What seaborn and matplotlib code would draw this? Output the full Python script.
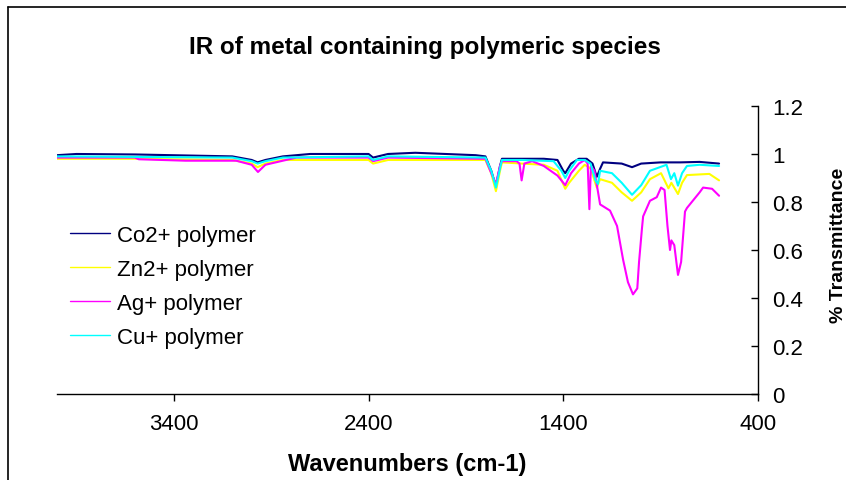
import numpy as np
import pandas as pd
import matplotlib.pyplot as plt
import seaborn as sns
from matplotlib.lines import Line2D

# series (wavenumber, transmittance)
co_wn = [4000, 3900, 3600, 3100, 3000, 2970, 2930, 2840, 2700, 2400, 2377, 2300, 2160,
         1850, 1800, 1770, 1746, 1725, 1715, 1612, 1500, 1430, 1400, 1390, 1360, 1320,
         1280, 1250, 1228, 1210, 1196, 1100, 1047, 1000, 900, 860, 800, 700, 600]
co_t = [0.995, 1.0, 0.998, 0.99, 0.975, 0.965, 0.975, 0.99, 1.0, 1.0, 0.985, 1.0, 1.005,
        0.995, 0.99, 0.93, 0.865, 0.95, 0.98, 0.98, 0.98, 0.975, 0.93, 0.92, 0.96, 0.98,
        0.98, 0.96, 0.905, 0.94, 0.965, 0.96, 0.945, 0.96, 0.965, 0.965, 0.965, 0.967, 0.96]

zn_wn = [4000, 3600, 3100, 3000, 2970, 2930, 2840, 2400, 2377, 2300, 1800, 1770, 1746,
         1725, 1715, 1612, 1500, 1430, 1390, 1370, 1320, 1290, 1260, 1228, 1211, 1150,
         1100, 1047, 1000, 955, 898, 860, 845, 811, 790, 765, 650, 600]
zn_t = [0.98, 0.98, 0.975, 0.96, 0.945, 0.96, 0.975, 0.975, 0.96, 0.975, 0.975, 0.92, 0.845,
        0.93, 0.965, 0.96, 0.955, 0.93, 0.855, 0.88, 0.93, 0.955, 0.94, 0.86, 0.895, 0.88,
        0.84, 0.805, 0.84, 0.895, 0.92, 0.857, 0.88, 0.833, 0.88, 0.912, 0.917, 0.89]

ag_wn = [4000, 3600, 3580, 3340, 3080, 3000, 2968, 2930, 2840, 2770, 2400, 2377, 2300,
         1800, 1770, 1746, 1725, 1715, 1640, 1625, 1614, 1600, 1560, 1500, 1430, 1400,
         1390, 1360, 1320, 1290, 1275, 1266, 1258, 1240, 1211, 1160, 1124, 1093, 1068,
         1042, 1020, 1011, 996, 990, 955, 920, 898, 880, 865, 852, 845, 830, 811, 795,
         775, 765, 700, 682, 636, 600]
ag_t = [0.985, 0.985, 0.978, 0.972, 0.972, 0.955, 0.925, 0.955, 0.972, 0.985, 0.985, 0.97, 0.985,
        0.98, 0.92, 0.875, 0.95, 0.97, 0.97, 0.96, 0.89, 0.96, 0.97, 0.95, 0.91, 0.88,
        0.87, 0.92, 0.96, 0.975, 0.96, 0.77, 0.95, 0.93, 0.79, 0.764, 0.70, 0.56, 0.466,
        0.415, 0.44, 0.55, 0.69, 0.74, 0.805, 0.82, 0.86, 0.85, 0.70, 0.60, 0.64, 0.62, 0.496, 0.55,
        0.76, 0.775, 0.84, 0.86, 0.855, 0.826]

cu_wn = [4000, 3100, 3000, 2970, 2930, 2840, 2400, 2377, 2300, 1800, 1770, 1746, 1725,
         1715, 1612, 1450, 1410, 1390, 1370, 1330, 1290, 1260, 1235, 1222, 1211, 1150,
         1100, 1047, 1000, 955, 870, 847, 830, 811, 790, 765, 700, 600]
cu_t = [0.99, 0.985, 0.97, 0.96, 0.97, 0.985, 0.99, 0.975, 0.99, 0.985, 0.93, 0.86, 0.94,
        0.975, 0.975, 0.97, 0.93, 0.90, 0.93, 0.975, 0.975, 0.96, 0.89, 0.875, 0.93, 0.92,
        0.88, 0.83, 0.87, 0.93, 0.955, 0.895, 0.92, 0.868, 0.92, 0.95, 0.955, 0.95]

series_names = ["Co2+ polymer", "Zn2+ polymer", "Ag+ polymer", "Cu+ polymer"]
colors = ["#000080", "#FFFF00", "#FF00FF", "#00FFFF"]
x_ticks = [3400, 2400, 1400, 400]
y_ticks = [0, 0.2, 0.4, 0.6, 0.8, 1, 1.2]
y_ticklabels = ["0", "0.2", "0.4", "0.6", "0.8", "1", "1.2"]

frames = []
for name, wn, t in zip(series_names, [co_wn, zn_wn, ag_wn, cu_wn], [co_t, zn_t, ag_t, cu_t]):
    frames.append(pd.DataFrame({"wavenumber": wn, "transmittance": t, "series": name}))
df = pd.concat(frames, ignore_index=True)

sns.set_style("white")
plt.rcParams["font.family"] = ["Liberation Sans", "DejaVu Sans"]
plt.rcParams["text.color"] = "black"
plt.rcParams["axes.labelcolor"] = "black"
plt.rcParams["xtick.color"] = "black"
plt.rcParams["ytick.color"] = "black"

fig = plt.figure(figsize=(8.46, 4.81), dpi=100)
ax = fig.add_axes([0.0674, 0.1788, 0.8286, 0.5988])

sns.lineplot(data=df, x="wavenumber", y="transmittance", hue="series",
             hue_order=series_names, palette=colors, estimator=None, sort=False,
             linewidth=1.5, ax=ax, legend=False)

ax.set_xlim(4000, 400)
ax.set_ylim(0, 1.2)
ax.set_xticks(x_ticks)
ax.set_xticklabels([str(v) for v in x_ticks])
ax.set_yticks(y_ticks)
ax.set_yticklabels(y_ticklabels)

ax.yaxis.tick_right()
ax.yaxis.set_label_position("right")
for side in ["top", "left"]:
    ax.spines[side].set_visible(False)
for side in ["bottom", "right"]:
    ax.spines[side].set_color("black")
    ax.spines[side].set_linewidth(1.0)

ax.tick_params(axis="x", direction="out", length=5, width=1, color="black",
               labelcolor="black", labelsize=16, pad=9, bottom=True)
ax.tick_params(axis="y", direction="in", length=5, width=1, color="black",
               labelcolor="black", labelsize=16, pad=10, right=True, left=False)

ax.set_xlabel("Wavenumbers (cm-1)", fontsize=17, fontweight="bold", color="black")
ax.xaxis.set_label_coords(0.5, -0.2)
ax.set_ylabel("% Transmittance", fontsize=14, fontweight="bold", color="black")
ax.yaxis.set_label_coords(1.103, 0.52)

fig.text(0.502, 0.902, "IR of metal containing polymeric species",
         ha="center", va="center", fontsize=17.5, fontweight="bold", color="black")

handles = ax.get_lines()[:4]
leg = ax.legend(handles, series_names, loc="center left", bbox_to_anchor=(0.0185, 0.373),
                frameon=False, fontsize=16, handlelength=1.8, handletextpad=0.32,
                labelspacing=0.58, borderaxespad=0, borderpad=0)
for line in leg.get_lines():
    line.set_linewidth(1.0)
for txt in leg.get_texts():
    txt.set_color("black")

# outer chart border (top and left edges only are inside the crop)
bx, by = 8 / 846, 1 - 8 / 481
fig.lines.append(Line2D([bx, 1.01], [by, by], transform=fig.transFigure,
                        color="black", linewidth=1.2))
fig.lines.append(Line2D([bx, bx], [by, -0.01], transform=fig.transFigure,
                        color="black", linewidth=1.2))

fig.savefig("out.png", dpi=100)
